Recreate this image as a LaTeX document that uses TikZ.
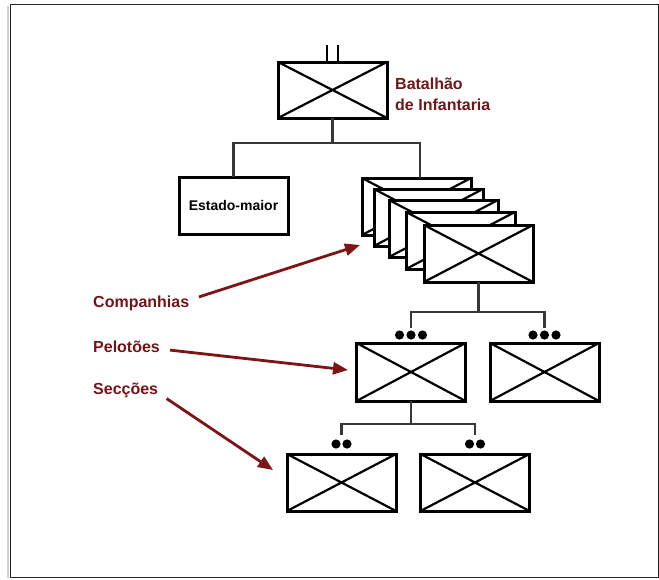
\documentclass[tikz,border=0pt]{standalone}
\usepackage{fontspec}
\setmainfont{Liberation Sans}
\usetikzlibrary{arrows.meta,calc}
\definecolor{darkred}{RGB}{112,22,26}
\definecolor{arrred}{RGB}{125,20,22}
\definecolor{conn}{RGB}{55,55,55}
\tikzset{
  unitbox/.style={draw=black, fill=white, line width=3pt, minimum width=109pt, minimum height=57pt,
    inner sep=0pt, outer sep=0pt,
    path picture={\draw[line width=2.2pt] (path picture bounding box.north west) -- (path picture bounding box.south east)
      (path picture bounding box.south west) -- (path picture bounding box.north east);}},
  plainbox/.style={draw=black, fill=white, line width=3pt, minimum width=109pt, minimum height=57pt,
    inner sep=0pt, outer sep=0pt, font=\bfseries\fontsize{14}{16}\selectfont},
  connector/.style={draw=conn, line width=2.6pt},
  lbl/.style={text=darkred, font=\bfseries\fontsize{16}{21}\selectfont, inner sep=0pt, anchor=west, align=left},
  arr/.style={draw=arrred, line width=2.8pt, -{Triangle[length=15pt,width=12pt]}, shorten <=10pt},
}
\begin{document}
\begin{tikzpicture}[x=1pt,y=-1pt]
\useasboundingbox (0,0) rectangle (659,579);
% frame
\draw[gray!35, line width=2pt] (8,6) -- (8,578);
\draw[black!85, line width=1pt] (10.5,4.5) rectangle (658.5,577.5);

% battalion
\node[unitbox, minimum height=56pt] (bat) at (332.5,90) {};
\draw[line width=2.2pt] (327,45) -- (327,62) (338,45) -- (338,62);
\node[lbl] (batlab) at (395,94) {Batalhão\\de Infantaria};

% estado-maior
\node[plainbox] (est) at (233.5,205.5) {Estado-maior};

% companies stack
\node[unitbox] (c1) at (416.5,206.5) {};
\node[unitbox] (c2) at (428.5,217.5) {};
\node[unitbox] (c3) at (443.5,228.5) {};
\node[unitbox] (c4) at (460.5,240.5) {};
\node[unitbox] (c5) at (478.5,253.5) {};

% platoons
\node[unitbox, minimum height=58pt] (pL) at (411,372) {};
\node[unitbox, minimum height=58pt] (pR) at (544.5,372) {};

% sections
\node[unitbox] (sL) at (341.5,482.5) {};
\node[unitbox] (sR) at (475,482.5) {};

% connectors level 1
\coordinate (h1) at (332.5,143);
\coordinate (h1c) at (420,143);
\draw[connector] (bat.south) -- (h1);
\draw[connector] (est.north) |- (h1) -- (h1c) -- (h1c |- c1.north);

% connectors level 2 (platoons)
\coordinate (h2) at (478.5,312);
\coordinate (pLt) at ($(pL.north)+(0,-15)$);
\coordinate (pRt) at ($(pR.north)+(0,-15)$);
\draw[connector] (c5.south) -- (h2);
\draw[connector] (pLt) |- (h2) -| (pRt);
\foreach \dx in {-11.5,0,11.5}{
  \fill ($(pL.north)+(\dx,-8)$) circle (4.6pt);
  \fill ($(pR.north)+(\dx,-8)$) circle (4.6pt);
}

% connectors level 3 (sections)
\coordinate (h3) at (411,424);
\coordinate (sLt) at ($(sL.north)+(0,-19)$);
\coordinate (sRt) at ($(sR.north)+(0,-19)$);
\draw[connector] (pL.south) -- (h3);
\draw[connector] (sLt) |- (h3) -| (sRt);
\foreach \dx in {-5.5,5.5}{
  \fill ($(sL.north)+(\dx,-10)$) circle (4.6pt);
  \fill ($(sR.north)+(\dx,-10)$) circle (4.6pt);
}

% labels and arrows
\node[lbl] (lcomp) at (93,303) {Companhias};
\node[lbl] (lpel) at (93,347) {Pelotões};
\node[lbl] (lsec) at (93,390) {Secções};
\coordinate (tc) at (360,245);
\coordinate (tp) at (348,370);
\coordinate (ts) at (273,470);
\draw[arr] ($(lcomp.east)+(0,-3)$) -- (tc);
\draw[arr] ($(lpel.east)+(0,2)$) -- (tp);
\draw[arr] ($(lsec.east)+(0,3)$) -- (ts);
\end{tikzpicture}
\end{document}
